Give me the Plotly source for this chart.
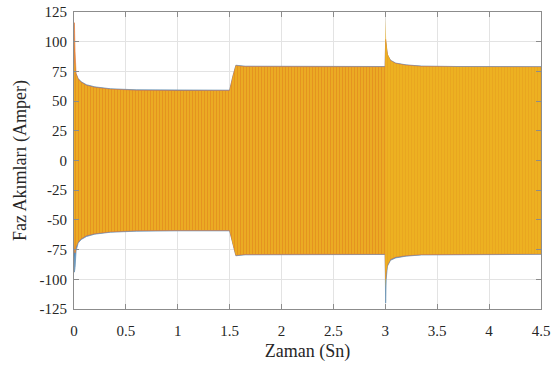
import plotly.graph_objects as go

# Envelope of the three phase currents (time in s, current in A)
t_env = [0.0, 0.004, 0.010, 0.020, 0.040, 0.070, 0.120, 0.200, 0.350, 0.600, 1.000,
         1.500, 1.530, 1.560, 1.650, 2.200, 2.998, 3.003, 3.008, 3.020, 3.050, 3.100,
         3.200, 3.350, 3.700, 4.500]

yellow_top = [55, 80, 83, 72, 68, 65.5, 63, 61.3, 59.7, 58.8, 58.5,
              58.5, 70, 79.5, 78.8, 78.5, 78.5, 120, 100, 90, 84, 81.5,
              80, 79, 78.6, 78.5]
yellow_bot = [-55, -72, -78, -72, -68, -65.5, -63, -61.3, -59.7, -58.8, -58.5,
              -58.5, -70, -79.5, -78.8, -78.5, -78.5, -108, -95, -88, -83, -81,
              -79.8, -79, -78.6, -78.5]
orange_top = [100, 116, 92, 73, 68.5, 65.8, 63.2, 61.5, 59.9, 59, 58.7,
              58.7, 70.2, 79.7, 79, 78.7, 78.7, 102, 96, 89, 84, 81.6,
              80.1, 79.1, 78.7, 78.6]
orange_bot = [-70, -76, -78, -72.5, -68.5, -65.8, -63.2, -61.5, -59.9, -59, -58.7,
              -58.7, -70.2, -79.7, -79, -78.7, -78.7, -100, -94, -88, -83.2, -81.2,
              -80, -79.1, -78.7, -78.6]
blue_top = [60, 70, 76, 73, 69, 66.3, 63.8, 62, 60.4, 59.5, 59.2,
            59.2, 70.7, 80.2, 79.4, 79.1, 79.1, 100, 95, 89, 84.4, 82,
            80.5, 79.5, 79.1, 79]
blue_bot = [-80, -94, -90, -76, -69.5, -66.5, -64, -62, -60.4, -59.5, -59.2,
            -59.2, -70.7, -80.2, -79.4, -79.1, -79.1, -120, -100, -89, -84, -82,
            -80.5, -79.5, -79.1, -79]

x_ticks = [0, 0.5, 1, 1.5, 2, 2.5, 3, 3.5, 4, 4.5]
x_tick_labels = ["0", "0.5", "1", "1.5", "2", "2.5", "3", "3.5", "4", "4.5"]
y_ticks = [-125, -100, -75, -50, -25, 0, 25, 50, 75, 100, 125]
y_tick_labels = ["-125", "-100", "-75", "-50", "-25", "0", "25", "50", "75", "100", "125"]

FONT = "Liberation Serif, serif"


def band(top, bot):
    return t_env + t_env[::-1], top + bot[::-1]


fig = go.Figure()

bx, by = band(blue_top, blue_bot)
fig.add_trace(go.Scatter(x=bx, y=by, fill="toself", mode="lines",
                         line=dict(color="#6E95B5", width=0.8),
                         fillcolor="#4F8CC0", hoverinfo="skip", showlegend=False))

ox, oy = band(orange_top, orange_bot)
fig.add_trace(go.Scatter(x=ox, y=oy, fill="toself", mode="lines",
                         line=dict(color="#E07A3A", width=0.6),
                         fillcolor="#E58A3C", hoverinfo="skip", showlegend=False))

# yellow phase split into two parts: more orange striping before 3 s
split = t_env.index(2.998) + 1
t1 = t_env[:split]
y1t, y1b = yellow_top[:split], yellow_bot[:split]
fig.add_trace(go.Scatter(x=t1 + t1[::-1], y=y1t + y1b[::-1], fill="toself", mode="none",
                         fillpattern=dict(shape="|", fgcolor="#E2861E", bgcolor="#EBAB23",
                                          size=3, solidity=0.22, fillmode="replace"),
                         hoverinfo="skip", showlegend=False))
t2 = t_env[split - 1:]
y2t, y2b = yellow_top[split - 1:], yellow_bot[split - 1:]
fig.add_trace(go.Scatter(x=t2 + t2[::-1], y=y2t + y2b[::-1], fill="toself", mode="none",
                         fillpattern=dict(shape="|", fgcolor="#E6A020", bgcolor="#EDB121",
                                          size=3, solidity=0.2, fillmode="replace"),
                         hoverinfo="skip", showlegend=False))

axis_common = dict(showline=True, linecolor="#8C8C8C", linewidth=1, mirror="ticks",
                   ticks="inside", ticklen=5, tickcolor="#8C8C8C", automargin=False,
                   showgrid=True, gridcolor="#E3E3E3", gridwidth=1, zeroline=False,
                   tickfont=dict(family=FONT, size=15, color="#262626"))

fig.update_xaxes(range=[0, 4.5], tickvals=x_ticks, ticktext=x_tick_labels,
                 ticklabelstandoff=8,
                 title=dict(text="Zaman (Sn)", font=dict(family=FONT, size=18, color="#262626"),
                            standoff=6),
                 **axis_common)
fig.update_yaxes(range=[-125, 125], tickvals=y_ticks, ticktext=y_tick_labels,
                 ticklabelstandoff=3,
                 title=dict(text="Faz Akımları (Amper)", font=dict(family=FONT, size=18, color="#262626"),
                            standoff=8),
                 **axis_common)

fig.update_layout(width=552, height=367, margin=dict(l=74, r=11, t=12, b=58),
                  paper_bgcolor="white", plot_bgcolor="white",
                  font=dict(family=FONT))

# remove the browser's default page margin so the figure sits at the window's corner
fig.write_html("out.html", config={"displayModeBar": False},
               post_script="document.body.style.margin='0';")
